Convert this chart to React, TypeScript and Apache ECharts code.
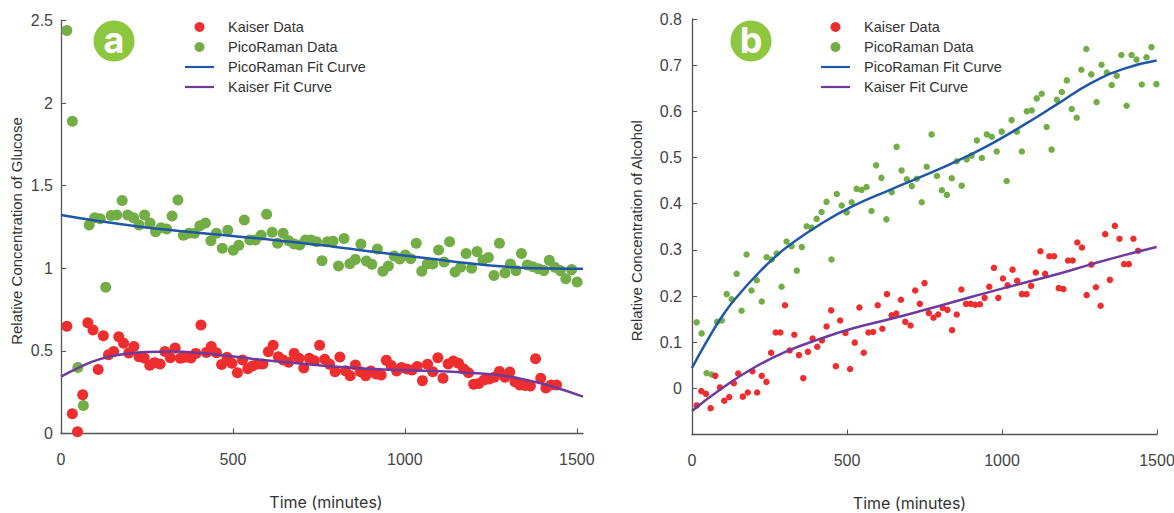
import React, { useEffect, useRef } from "react";
import * as echarts from "echarts";

const RED = "#ee2e2e";
const GREEN = "#72ae45";
const BLUE = "#1f57a8";
const PURPLE = "#6f3a9c";
const AXIS = "#555555";
const TEXT = "#444444";
const FONT = "'Liberation Sans', Arial, sans-serif";

const xTicks = [0, 500, 1000, 1500];

const glucosePicoX = [17,33,49,65,82,98,114,130,146,162,178,194,211,227,243,259,275,291,307,323,340,356,372,388,404,420,436,452,469,485,501,517,533,549,565,582,598,614,630,646,662,678,694,711,727,743,759,775,791,807,823,840,856,872,888,904,920,936,952,969,985,1001,1017,1033,1049,1065,1081,1098,1114,1130,1146,1162,1178,1194,1210,1227,1243,1259,1275,1291,1307,1323,1339,1356,1372,1388,1404,1420,1436,1452,1468,1485,1501];
const glucosePicoY = [2.44,1.89,0.40,0.17,1.262,1.306,1.30,0.885,1.32,1.323,1.41,1.323,1.306,1.262,1.323,1.274,1.222,1.246,1.238,1.317,1.413,1.2,1.212,1.212,1.258,1.274,1.167,1.212,1.121,1.23,1.11,1.139,1.292,1.171,1.171,1.2,1.327,1.218,1.151,1.212,1.167,1.147,1.141,1.171,1.171,1.161,1.046,1.161,1.163,1.014,1.181,1.028,1.054,1.147,1.044,1.024,1.117,0.982,1.014,1.074,1.056,1.08,1.058,1.151,0.982,1.026,1.026,1.111,1.038,1.161,0.978,1.006,1.089,1.0,1.101,1.05,1.066,0.957,1.151,0.972,1.026,0.986,1.089,1.02,1.01,0.998,0.986,1.048,1.006,0.986,0.937,0.992,0.917];

const glucoseKaiserX = [17,33,48,63,78,93,108,123,138,153,168,182,197,212,227,242,258,272,288,302,318,332,347,362,378,392,407,423,437,452,467,483,497,513,528,543,557,572,587,603,617,632,646,662,678,692,706,722,737,752,767,781,797,811,827,841,856,871,886,901,916,931,946,960,976,990,1006,1021,1036,1051,1066,1081,1096,1111,1126,1141,1156,1171,1185,1200,1215,1230,1245,1260,1275,1291,1305,1320,1334,1350,1365,1380,1395,1410,1425,1441];
const glucoseKaiserY = [0.649,0.12,0.011,0.235,0.671,0.627,0.388,0.592,0.477,0.497,0.586,0.546,0.487,0.526,0.465,0.457,0.413,0.429,0.421,0.497,0.459,0.518,0.455,0.461,0.457,0.485,0.657,0.491,0.526,0.489,0.417,0.461,0.425,0.368,0.445,0.392,0.409,0.421,0.421,0.495,0.534,0.465,0.445,0.431,0.485,0.455,0.396,0.455,0.441,0.534,0.449,0.419,0.374,0.463,0.38,0.35,0.415,0.374,0.35,0.378,0.36,0.354,0.443,0.411,0.378,0.40,0.39,0.384,0.405,0.32,0.419,0.374,0.459,0.334,0.421,0.439,0.425,0.39,0.368,0.298,0.302,0.324,0.33,0.34,0.376,0.34,0.372,0.314,0.294,0.29,0.288,0.453,0.334,0.275,0.294,0.294];

const glucosePicoFitX = [0,113,230,346,462,578,695,792,889,985,1082,1179,1276,1373,1470,1518];
const glucosePicoFitY = [1.323,1.285,1.252,1.226,1.203,1.18,1.155,1.131,1.105,1.08,1.056,1.032,1.012,1.0,0.998,0.998];
const glucoseKaiserFitX = [0,55,113,181,249,327,404,482,559,637,695,792,889,985,1082,1179,1276,1354,1431,1518];
const glucoseKaiserFitY = [0.344,0.402,0.45,0.48,0.493,0.497,0.487,0.471,0.451,0.435,0.424,0.405,0.392,0.384,0.378,0.368,0.352,0.324,0.283,0.223];

const alcoholPicoX = [15,31,47,63,81,96,112,128,144,160,176,192,209,225,241,257,273,289,305,321,338,354,370,386,402,418,434,450,467,483,499,515,531,547,563,579,594,611,627,644,660,676,693,709,725,741,757,773,790,806,822,838,854,870,886,902,919,935,951,967,983,999,1015,1031,1048,1064,1080,1096,1112,1128,1144,1160,1177,1193,1209,1225,1241,1256,1272,1288,1305,1321,1338,1354,1370,1385,1402,1418,1434,1451,1466,1482,1498];
const alcoholPicoY = [0.143,0.119,0.033,0.03,0.144,0.147,0.204,0.193,0.248,0.168,0.29,0.212,0.234,0.188,0.284,0.279,0.292,0.22,0.318,0.308,0.255,0.306,0.351,0.348,0.367,0.382,0.404,0.279,0.421,0.396,0.381,0.403,0.432,0.43,0.436,0.384,0.483,0.456,0.366,0.425,0.523,0.472,0.453,0.438,0.454,0.403,0.48,0.55,0.46,0.429,0.419,0.455,0.492,0.439,0.496,0.504,0.537,0.499,0.55,0.545,0.513,0.556,0.449,0.581,0.556,0.513,0.6,0.602,0.628,0.638,0.566,0.517,0.625,0.642,0.667,0.605,0.586,0.69,0.735,0.68,0.62,0.701,0.684,0.657,0.677,0.722,0.612,0.722,0.712,0.658,0.717,0.739,0.659];

const alcoholKaiserX = [15,30,45,60,75,90,104,120,135,149,164,180,195,210,225,240,255,270,285,300,315,330,345,359,374,389,404,419,434,449,464,478,495,510,525,540,554,569,584,599,614,629,644,659,674,688,705,720,735,750,764,779,794,809,824,839,854,869,884,899,914,929,944,959,974,988,1003,1018,1034,1049,1064,1079,1094,1109,1124,1139,1153,1168,1183,1198,1213,1228,1243,1258,1273,1288,1303,1318,1333,1348,1364,1379,1394,1409,1424,1439];
const alcoholKaiserY = [-0.037,-0.006,-0.012,-0.043,0.027,0.002,-0.027,-0.019,0.011,0.032,-0.018,-0.009,0.037,-0.009,0.027,0.014,0.077,0.121,0.121,0.18,0.082,0.116,0.072,0.022,0.079,0.108,0.09,0.104,0.134,0.169,0.048,0.147,0.12,0.042,0.099,0.175,0.077,0.121,0.122,0.18,0.129,0.204,0.158,0.162,0.192,0.144,0.136,0.212,0.183,0.228,0.163,0.153,0.16,0.174,0.17,0.126,0.16,0.214,0.183,0.183,0.181,0.182,0.196,0.22,0.261,0.196,0.238,0.223,0.257,0.233,0.204,0.204,0.222,0.251,0.297,0.248,0.286,0.286,0.217,0.215,0.277,0.277,0.316,0.305,0.202,0.268,0.219,0.179,0.334,0.235,0.352,0.324,0.269,0.269,0.324,0.298];

const alcoholPicoFitX = [0,48,101,155,209,262,316,413,520,639,746,854,961,1069,1177,1284,1392,1499];
const alcoholPicoFitY = [0.044,0.102,0.16,0.206,0.246,0.281,0.311,0.355,0.395,0.43,0.46,0.492,0.528,0.57,0.615,0.66,0.692,0.71];
const alcoholKaiserFitX = [0,90,198,305,413,520,639,746,854,961,1069,1177,1284,1392,1499];
const alcoholKaiserFitY = [-0.049,-0.003,0.044,0.08,0.107,0.13,0.15,0.169,0.189,0.209,0.228,0.247,0.268,0.288,0.306];

const legendNames = ["Kaiser Data", "PicoRaman Data", "PicoRaman Fit Curve", "Kaiser Fit Curve"];
const LINE_ICON = "path://M0 0H290V22H0Z";

const zip = (xs: number[], ys: number[]) => xs.map((x, i) => [x, ys[i]]);

function scatter(name: string, color: string, size: number, idx: number, xs: number[], ys: number[]) {
  return {
    type: "scatter", name, xAxisIndex: idx, yAxisIndex: idx,
    symbol: "circle", symbolSize: size, itemStyle: { color, opacity: 1 }, data: zip(xs, ys),
  };
}
function fit(name: string, color: string, idx: number, xs: number[], ys: number[]) {
  return {
    type: "line", name, xAxisIndex: idx, yAxisIndex: idx, showSymbol: false, symbol: "none", smooth: 0.5,
    lineStyle: { color, width: 2.5 }, itemStyle: { color }, data: zip(xs, ys),
  };
}
const axisLine = { show: true, onZero: false, lineStyle: { color: AXIS, width: 1.3 } };
const tick = { show: true, inside: true, length: 5, lineStyle: { color: AXIS, width: 1.1 } };

function xAxis(gridIndex: number, max: number, padRight: number, padLeft: number) {
  return {
    type: "value", gridIndex, min: 0, max,
    name: "Time (minutes)", nameLocation: "middle", nameGap: 60,
    nameTextStyle: { color: "#333", fontFamily: "Inter, sans-serif", fontSize: 16, padding: [0, padRight, 0, padLeft] },
    axisLine, axisTick: { ...tick, customValues: xTicks },
    axisLabel: { color: TEXT, fontFamily: FONT, fontSize: 16, margin: 18, customValues: xTicks, formatter: (v: number) => String(v) },
    splitLine: { show: false },
  };
}
function yAxis(gridIndex: number, min: number, max: number, interval: number, name: string, gap: number, margin: number, hide?: number) {
  return {
    type: "value", gridIndex, min, max, interval,
    name, nameLocation: "middle", nameGap: gap,
    nameTextStyle: { color: "#333", fontFamily: FONT, fontSize: 15, padding: [0, 8, 0, 0] },
    axisLine, axisTick: tick,
    axisLabel: {
      color: TEXT, fontFamily: FONT, fontSize: 16, margin,
      formatter: (v: number) => (hide !== undefined && Math.abs(v - hide) < 1e-6 ? "" : String(Math.round(v * 10) / 10)),
    },
    splitLine: { show: false },
  };
}
function legend(left: number) {
  return {
    data: legendNames.map((name) => (name.includes("Fit") ? { name, icon: LINE_ICON } : { name, icon: "circle" })),
    orient: "vertical", left, top: 19, itemWidth: 29, itemHeight: 10, itemGap: 4,
    padding: 0,
    textStyle: { color: "#333", fontFamily: FONT, fontSize: 14.5, lineHeight: 16, padding: [0, 0, 0, 9] },
  };
}
function badge(x: number, label: string) {
  return {
    type: "group", children: [
      { type: "circle", shape: { cx: x, cy: 41, r: 20.5 }, style: { fill: "#8dc63f" } },
      { type: "text", x, y: 40, style: { text: label, fill: "#fff", font: "bold 36px Inter, sans-serif", textAlign: "center", textVerticalAlign: "middle" } },
    ],
  };
}

export default function App() {
  const ref = useRef<HTMLDivElement>(null);
  useEffect(() => {
    const chart = echarts.init(ref.current!, undefined, { renderer: "svg" });
    chart.setOption({
      animation: false,
      backgroundColor: "#fff",
      grid: [
        { left: 61, top: 20.5, width: 522, height: 413, outerBoundsMode: "none" },
        { left: 692, top: 19, width: 465, height: 415.5, outerBoundsMode: "none" },
      ],
      xAxis: [xAxis(0, 1518, 0, 8), xAxis(1, 1500, 30, 0)],
      yAxis: [
        yAxis(0, 0, 2.5, 0.5, "Relative Concentration of Glucose", 37, 8),
        yAxis(1, -0.1, 0.8, 0.1, "Relative Concentration of Alcohol", 48, 10, -0.1),
      ],
      legend: [legend(185), legend(821)],
      graphic: { elements: [badge(114, "a"), badge(751, "b")] },
      series: [
        scatter("PicoRaman Data", GREEN, 11, 0, glucosePicoX, glucosePicoY),
        scatter("Kaiser Data", RED, 11, 0, glucoseKaiserX, glucoseKaiserY),
        fit("PicoRaman Fit Curve", BLUE, 0, glucosePicoFitX, glucosePicoFitY),
        fit("Kaiser Fit Curve", PURPLE, 0, glucoseKaiserFitX, glucoseKaiserFitY),
        scatter("PicoRaman Data", GREEN, 6.5, 1, alcoholPicoX, alcoholPicoY),
        scatter("Kaiser Data", RED, 6.5, 1, alcoholKaiserX, alcoholKaiserY),
        fit("PicoRaman Fit Curve", BLUE, 1, alcoholPicoFitX, alcoholPicoFitY),
        fit("Kaiser Fit Curve", PURPLE, 1, alcoholKaiserFitX, alcoholKaiserFitY),
      ],
    });
    return () => chart.dispose();
  }, []);
  return <div ref={ref} style={{ position: "absolute", left: 0, top: 0, width: 1174, height: 513 }} />;
}
